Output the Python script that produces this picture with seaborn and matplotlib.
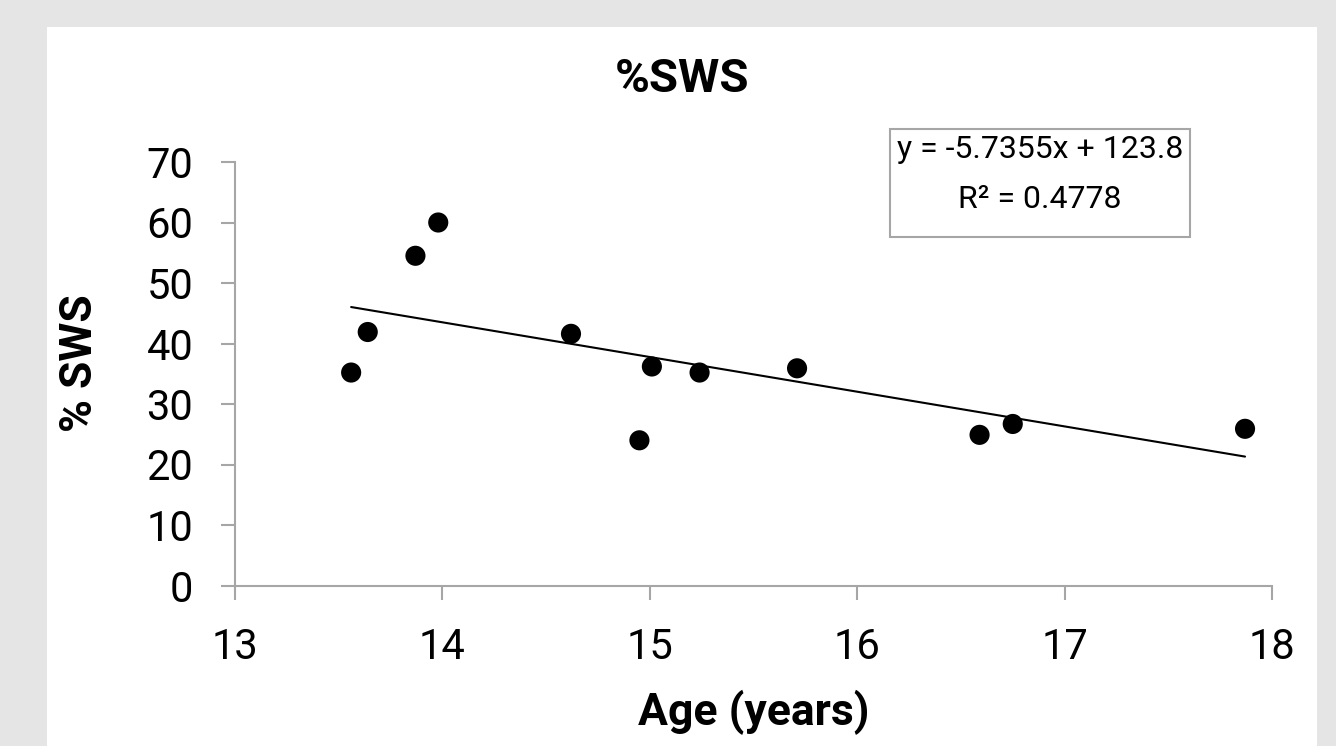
import matplotlib.pyplot as plt
import matplotlib.patches as mpatches
import numpy as np
import seaborn as sns

# values
age = [13.56, 13.64, 13.87, 13.98, 14.62, 14.95, 15.01, 15.24, 15.71, 16.59, 16.75, 17.87]
sws = [35.2, 41.9, 54.5, 60.0, 41.6, 24.0, 36.2, 35.2, 35.9, 24.9, 26.7, 25.9]
slope = -5.7355
intercept = 123.8
r2 = 0.4778
x_ticks = [13, 14, 15, 16, 17, 18]
y_ticks = [0, 10, 20, 30, 40, 50, 60, 70]

sns.set_theme(style="ticks")
plt.rcParams["font.family"] = ["Roboto", "DejaVu Sans"]
plt.rcParams["text.color"] = "black"
plt.rcParams["axes.labelcolor"] = "black"

W, H = 1336, 746
fig = plt.figure(figsize=(W / 100, H / 100), dpi=100)
fig.patch.set_facecolor("#e5e5e5")
# white chart area on the grey background
fig.add_artist(mpatches.Rectangle((47 / W, 0), (1317 - 47) / W, 1 - 27 / H,
                                  transform=fig.transFigure, fc="white", ec="none", zorder=-5))

ax = fig.add_axes([235 / W, 1 - 585.5 / H, (1272 - 235) / W, (585.5 - 162) / H])
ax.set_facecolor("white")

sns.scatterplot(x=age, y=sws, s=210, color="black", edgecolor="none", ax=ax, zorder=3)
xs = np.array([min(age), max(age)])
ax.plot(xs, slope * xs + intercept, color="black", lw=1.5, zorder=2)

ax.set_xlim(13, 18)
ax.set_ylim(0, 70)
ax.set_xticks(x_ticks)
ax.set_yticks(y_ticks)
sns.despine(ax=ax)
for s in ["left", "bottom"]:
    ax.spines[s].set_color("#a6a6a6")
    ax.spines[s].set_linewidth(1.5)
ax.tick_params(length=10, width=1.5, color="#a6a6a6", labelsize=30, labelcolor="black")
ax.tick_params(axis="y", pad=20)
ax.tick_params(axis="x", pad=20)

ax.set_xlabel("Age (years)", fontsize=32, fontweight="bold")
ax.xaxis.label.set_va("center")
ax.xaxis.set_label_coords(0.5, -(712 - 585.5) / 423.5)
ax.set_ylabel("% SWS", fontsize=32, fontweight="bold")
ax.yaxis.label.set_va("center")
ax.yaxis.set_label_coords((80 - 235) / 1037, (585.5 - 363) / 423.5)

fig.text(682 / W, 1 - 79 / H, "%SWS", ha="center", va="center", fontsize=34, fontweight="bold")

# trendline equation box
fig.add_artist(mpatches.Rectangle((890 / W, 1 - 237 / H), 300 / W, 108 / H,
                                  transform=fig.transFigure, fc="white", ec="#a6a6a6", lw=1.5))
fig.text(1040 / W, 1 - 150 / H, f"y = {slope}x + {intercept}", ha="center", va="center", fontsize=23)
fig.text(1040 / W, 1 - 199 / H, f"R² = {r2}", ha="center", va="center", fontsize=23)

fig.savefig("out.png", dpi=100)
